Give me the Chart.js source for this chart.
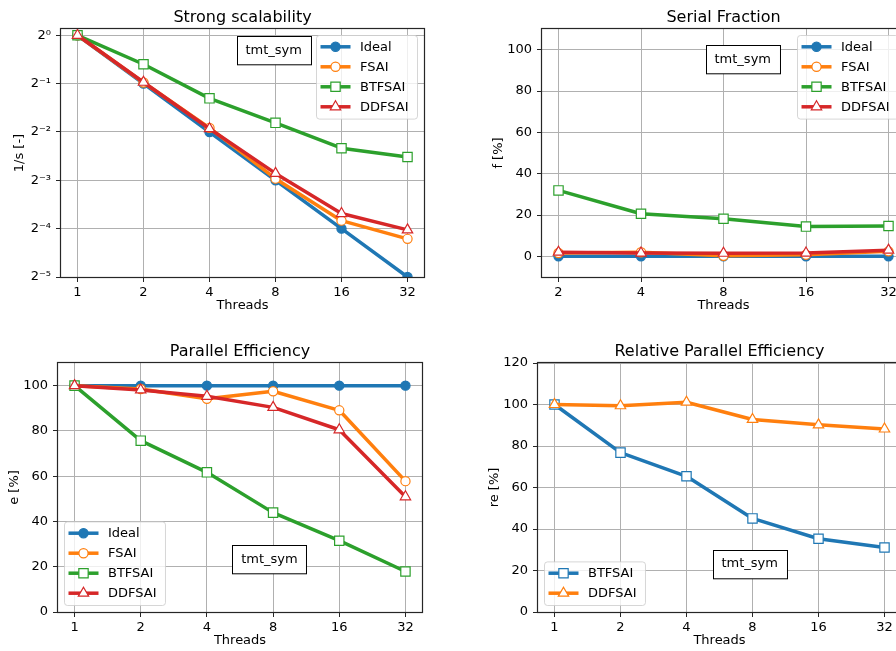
<!DOCTYPE html>
<html>
<head>
<meta charset="utf-8">
<script src="https://cdn.jsdelivr.net/npm/chart.js@4.4.1/dist/chart.umd.min.js"></script>
<style>
  html, body { margin: 0; padding: 0; background: #fff; overflow: hidden; width: 896px; height: 651px; }
  canvas { position: absolute; }
</style>
</head>
<body>
<canvas id="scal"></canvas>
<canvas id="serial"></canvas>
<canvas id="eff"></canvas>
<canvas id="releff"></canvas>
<script>
const threads = [1, 2, 4, 8, 16, 32];
const serialThreads = [2, 4, 8, 16, 32];

// 1/s (inverse speedup)
const scalIdeal = [1, 0.5, 0.25, 0.125, 0.0625, 0.03125];
const scalFSAI = [1, 0.508, 0.265, 0.128, 0.0701, 0.054];
const scalBTFSAI = [1, 0.66, 0.405, 0.285, 0.198, 0.1745];
const scalDDFSAI = [1, 0.51, 0.262, 0.138, 0.0776, 0.0614];
const scalTickValues = [1, 0.5, 0.25, 0.125, 0.0625, 0.03125];
const scalTickLabels = ['2⁰', '2⁻¹', '2⁻²', '2⁻³', '2⁻⁴', '2⁻⁵'];

// serial fraction f [%]
const serialIdeal = [0, 0, 0, 0, 0];
const serialFSAI = [1.6, 2.0, 0.3, 0.8, 2.4];
const serialBTFSAI = [31.9, 20.6, 18.2, 14.4, 14.7];
const serialDDFSAI = [2.0, 1.6, 1.5, 1.6, 3.0];

// parallel efficiency e [%]
const effIdeal = [100, 100, 100, 100, 100, 100];
const effFSAI = [100, 98.5, 94.2, 97.5, 89.1, 57.8];
const effBTFSAI = [100, 75.7, 61.7, 43.9, 31.5, 17.9];
const effDDFSAI = [100, 98.1, 95.3, 90.4, 80.5, 50.9];

// relative parallel efficiency re [%]
const relBTFSAI = [100, 76.8, 65.4, 45.1, 35.3, 31.1];
const relDDFSAI = [100, 99.4, 101.1, 92.8, 90.2, 88.2];

const pctTicks = [0, 20, 40, 60, 80, 100];
const relTicks = [0, 20, 40, 60, 80, 100, 120];

const BLUE = '#1f77b4', ORANGE = '#ff7f0e', GREEN = '#2ca02c', RED = '#d62728';
const FONT = '"DejaVu Sans", sans-serif';

Chart.defaults.font.family = FONT;
Chart.defaults.font.size = 13;
Chart.defaults.color = '#000';

// frame, legend box and the "tmt_sym" note, drawn over the lines
const axesDecor = {
  id: 'axesDecor',
  afterDatasetsDraw(chart, args, opts) {
    const ctx = chart.ctx;
    const a = chart.chartArea;
    ctx.save();

    ctx.strokeStyle = '#262626';
    ctx.lineWidth = 1.2;
    const l = Math.round(a.left) - 0.5, t = Math.round(a.top) - 0.5;
    const r = Math.round(a.right) + 0.5, b = Math.round(a.bottom) + 0.5;
    ctx.strokeRect(l, t, r - l, b - t);

    ctx.font = '13px ' + FONT;
    ctx.textBaseline = 'middle';

    if (opts.legend) {
      const ds = chart.data.datasets;
      const textW = Math.max(...ds.map(d => ctx.measureText(d.label).width));
      const w = 4 + 30 + 9.5 + textW + 9;
      const h = 11.3 + (ds.length - 1) * 20 + 12.3;
      const pad = 6.5;
      const x = opts.legend.includes('right') ? a.right - pad - w : a.left + pad;
      const y = opts.legend.includes('upper') ? a.top + pad : a.bottom - pad - h;
      ctx.beginPath();
      ctx.roundRect(x, y, w, h, 3);
      ctx.fillStyle = 'rgba(255,255,255,0.8)';
      ctx.fill();
      ctx.strokeStyle = 'rgba(204,204,204,0.8)';
      ctx.lineWidth = 1;
      ctx.stroke();
      ds.forEach((d, i) => {
        const cy = y + 11.3 + i * 20;
        ctx.beginPath();
        ctx.moveTo(x + 4, cy);
        ctx.lineTo(x + 34, cy);
        ctx.strokeStyle = d.borderColor;
        ctx.lineWidth = d.borderWidth;
        ctx.stroke();
        ctx.fillStyle = d.pointBackgroundColor;
        ctx.strokeStyle = d.pointBorderColor;
        ctx.lineWidth = d.pointBorderWidth;
        Chart.helpers.drawPoint(ctx, {
          pointStyle: d.pointStyle, radius: d.pointRadius,
          borderWidth: d.pointBorderWidth, rotation: 0
        }, x + 19, cy);
        ctx.fillStyle = '#000';
        ctx.textAlign = 'left';
        ctx.fillText(d.label, x + 43.5, cy + 0.5);
      });
    }

    if (opts.note) {
      const n = opts.note;
      const tw = ctx.measureText(n.text).width;
      const bw = tw + 17.5, bh = 28.3;
      const cx = a.left + n.fx * (a.right - a.left);
      const cy = a.top + n.fy * (a.bottom - a.top);
      const bx = Math.round(cx - bw / 2) + 0.5, by = Math.round(cy - bh / 2) + 0.5;
      ctx.fillStyle = '#fff';
      ctx.fillRect(bx, by, bw, bh);
      ctx.strokeStyle = '#000';
      ctx.lineWidth = 1;
      ctx.strokeRect(bx, by, bw, bh);
      ctx.fillStyle = '#000';
      ctx.textAlign = 'center';
      ctx.fillText(n.text, cx, cy);
    }
    ctx.restore();
  }
};
Chart.register(axesDecor);

function series(label, xs, ys, color, marker, hollow) {
  const radius = { circle: 4.6, rect: 6.6, triangle: 6 }[marker];
  return {
    label,
    data: xs.map((x, i) => ({ x, y: ys[i] })),
    borderColor: color,
    backgroundColor: color,
    borderWidth: 3.5,
    borderJoinStyle: 'round',
    pointStyle: marker,
    pointRadius: radius,
    pointHoverRadius: radius,
    pointBorderWidth: 1.2,
    pointBackgroundColor: hollow ? '#fff' : color,
    pointBorderColor: color,
    tension: 0,
    fill: false,
    clip: 0
  };
}

function threadAxis(tickValues, lo, hi) {
  return {
    type: 'logarithmic',
    bounds: 'data',
    min: Math.pow(2, lo),
    max: Math.pow(2, hi),
    afterBuildTicks: s => { s.ticks = tickValues.map(v => ({ value: v })); },
    afterFit: s => { s.height = 40; },
    ticks: { callback: v => String(v), padding: 3, maxRotation: 0, autoSkip: false, color: '#000' },
    grid: { color: '#b0b0b0', lineWidth: 1, tickColor: '#262626', tickLength: 5 },
    border: { display: false },
    title: { display: true, text: 'Threads', padding: { top: 0, bottom: 3.2 }, color: '#000' }
  };
}

function valueAxis(type, min, max, tickValues, labelFn, title, titlePad) {
  return {
    type,
    bounds: 'data',
    min, max,
    afterBuildTicks: s => { s.ticks = tickValues.map(v => ({ value: v })); },
    afterFit: s => { s.width = 60; },
    ticks: { callback: labelFn, padding: 5, autoSkip: false, color: '#000' },
    grid: { color: '#b0b0b0', lineWidth: 1, tickColor: '#262626', tickLength: 5 },
    border: { display: false },
    title: { display: true, text: title, padding: { top: titlePad, bottom: 0 }, color: '#000' }
  };
}

function place(id, L, T, R, B) {
  const c = document.getElementById(id);
  c.width = (R - L) + 60 + 24;
  c.height = (B - T) + 29 + 40;
  c.style.left = (L - 60) + 'px';
  c.style.top = (T - 29) + 'px';
  return c;
}

function makeChart(canvas, title, datasets, x, y, decor) {
  datasets.forEach((d, i) => { d.order = datasets.length - i; });
  return new Chart(canvas, {
    type: 'line',
    data: { datasets },
    options: {
      responsive: false,
      animation: false,
      layout: { padding: { left: 0, top: 0, right: 24, bottom: 0 } },
      scales: { x, y },
      plugins: {
        legend: { display: false },
        tooltip: { enabled: false },
        title: {
          display: true, text: title, fullSize: false, color: '#000',
          font: { size: 16, weight: 'normal', lineHeight: 1.2 },
          padding: { top: 8, bottom: 1.8 }
        },
        axesDecor: decor
      }
    }
  });
}

// Strong scalability
makeChart(place('scal', 61, 29, 424, 277), 'Strong scalability', [
  series('Ideal', threads, scalIdeal, BLUE, 'circle', false),
  series('FSAI', threads, scalFSAI, ORANGE, 'circle', true),
  series('BTFSAI', threads, scalBTFSAI, GREEN, 'rect', true),
  series('DDFSAI', threads, scalDDFSAI, RED, 'triangle', true)
],
  threadAxis(threads, -0.25, 5.25),
  valueAxis('logarithmic', Math.pow(2, -5), Math.pow(2, 0.13), scalTickValues,
    v => scalTickLabels[scalTickValues.indexOf(v)], '1/s [-]', 11.2),
  { legend: 'upper right', note: { text: 'tmt_sym', fx: 0.586, fy: 0.087 } });

// Serial fraction
makeChart(place('serial', 542, 29, 905, 277), 'Serial Fraction', [
  series('Ideal', serialThreads, serialIdeal, BLUE, 'circle', false),
  series('FSAI', serialThreads, serialFSAI, ORANGE, 'circle', true),
  series('BTFSAI', serialThreads, serialBTFSAI, GREEN, 'rect', true),
  series('DDFSAI', serialThreads, serialDDFSAI, RED, 'triangle', true)
],
  threadAxis(serialThreads, 0.8, 5.2),
  valueAxis('linear', -10, 110, pctTicks, v => String(v), 'f [%]', 9.2),
  { legend: 'upper right', note: { text: 'tmt_sym', fx: 0.553, fy: 0.123 } });

// Parallel efficiency
makeChart(place('eff', 58, 363, 422, 612), 'Parallel Efficiency', [
  series('Ideal', threads, effIdeal, BLUE, 'circle', false),
  series('FSAI', threads, effFSAI, ORANGE, 'circle', true),
  series('BTFSAI', threads, effBTFSAI, GREEN, 'rect', true),
  series('DDFSAI', threads, effDDFSAI, RED, 'triangle', true)
],
  threadAxis(threads, -0.25, 5.25),
  valueAxis('linear', 0, 110, pctTicks, v => String(v), 'e [%]', 9.2),
  { legend: 'lower left', note: { text: 'tmt_sym', fx: 0.581, fy: 0.788 } });

// Relative parallel efficiency
makeChart(place('releff', 538, 363, 901, 612), 'Relative Parallel Efficiency', [
  series('BTFSAI', threads, relBTFSAI, BLUE, 'rect', true),
  series('DDFSAI', threads, relDDFSAI, ORANGE, 'triangle', true)
],
  threadAxis(threads, -0.25, 5.25),
  valueAxis('linear', 0, 120, relTicks, v => String(v), 're [%]', 9.2),
  { legend: 'lower left', note: { text: 'tmt_sym', fx: 0.583, fy: 0.807 } });
</script>
</body>
</html>
